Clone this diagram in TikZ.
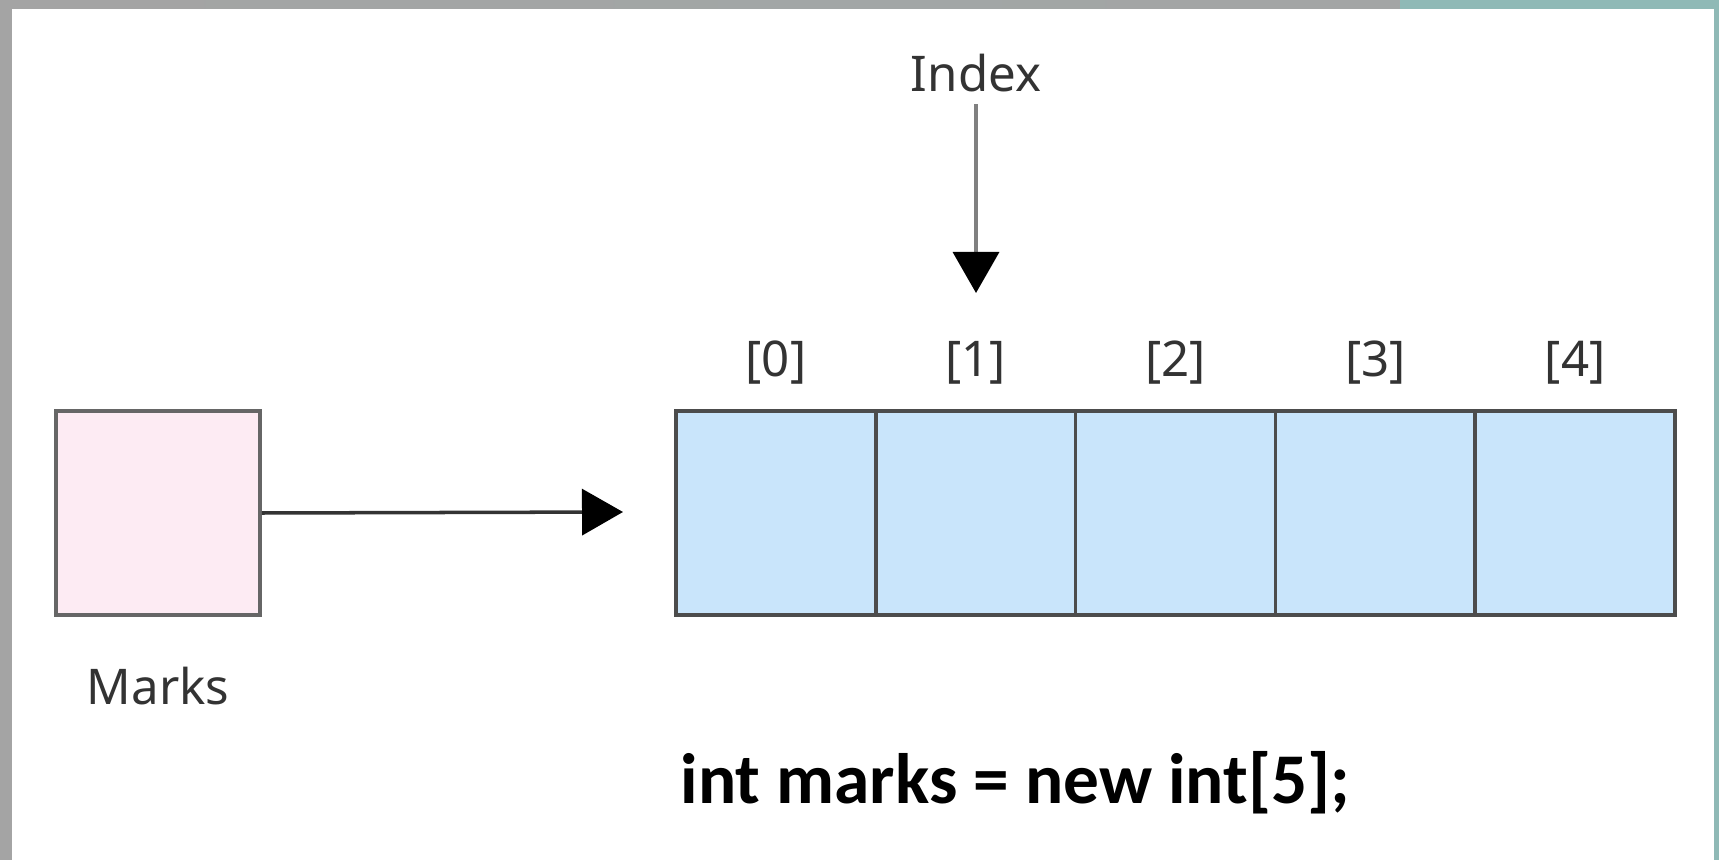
\documentclass[tikz,border=0pt]{standalone}
\usepackage{fontspec}
\setmainfont{Noto Sans}
\newfontfamily\codefont{Carlito}
\usetikzlibrary{positioning,arrows.meta}
\definecolor{ref-pink}{HTML}{FDEBF3}
\definecolor{cell-blue}{HTML}{C9E5FB}
\definecolor{frame-grey}{HTML}{A4A4A4}
\definecolor{frame-teal}{HTML}{8FB9B6}
\tikzstyle{ref-box} = [draw=black!60, fill=ref-pink, line width=1pt,
    rectangle, minimum width=20.4mm, minimum height=20.4mm, inner sep=0pt]
\tikzstyle{array-cell} = [draw=black!70, fill=cell-blue, line width=1pt,
    rectangle, minimum width=20mm, minimum height=20.4mm, inner sep=0pt]
\tikzstyle{idx-label} = [font=\fontsize{14}{16}\selectfont, text=black!80]
\tikzstyle{ptr-arrow} = [line width=1pt, draw=black!80,
    -{Triangle[length=4.1mm,width=4.6mm,color=black]}]

\begin{document}
\begin{tikzpicture}[x=0.1mm,y=-0.1mm]
% page frame
\shade[left color=frame-grey, right color=frame-grey, middle color=frame-grey!90!frame-teal]
    (0,0) rectangle (1719,860);
\fill[frame-teal] (1400,0) rectangle (1719,860);
\fill[white] (12,9) rectangle (1714,860);
% reference variable
\node [ref-box] (marks) at (158,513) {};
\node [idx-label, below=3.8mm of marks] (marks-name) {Marks};
% the five slots
\foreach \i in {0,...,4}{
    \node [array-cell] (cell\i) at (776+199.8*\i,513) {};
    \node [idx-label, above=1.3mm of cell\i] (pos\i) {[\i]};
}
\coordinate (arr-tip) at (623,512);
\draw [ptr-arrow] (marks.east) -- (arr-tip);
% index pointer
\node [idx-label] (index) at (976,73) {Index};
\coordinate (idx-tip) at (976,293);
\draw [ptr-arrow, draw=black!50] (index.south) -- (idx-tip);
% declaration
\node [anchor=base west, inner sep=0pt, font=\codefont\bfseries\fontsize{20.3}{24}\selectfont]
    (decl) at (680,803) {int marks = new int[5];};
\end{tikzpicture}
\end{document}
